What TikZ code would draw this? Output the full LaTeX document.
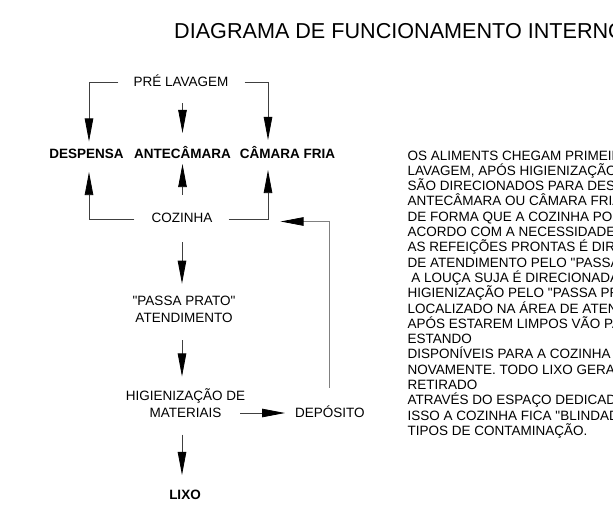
\documentclass[tikz,border=0pt]{standalone}
\usepackage{fontspec}
\setmainfont{Liberation Sans}[Ligatures=TeXOff]
\usetikzlibrary{arrows.meta}
\begin{document}
\begin{tikzpicture}[x=1pt,y=-1pt,
  lbl/.style={inner sep=0pt, font=\fontsize{13.5}{16.7}\selectfont, text height=9.7pt, text depth=0pt},
  blbl/.style={lbl, font=\fontsize{13.5}{16.7}\selectfont\bfseries},
  mlbl/.style={inner sep=0pt, align=center, font=\fontsize{13.5}{16.7}\selectfont},
  txt/.style={inner sep=0pt, anchor=base west, font=\fontsize{13.5}{15.3}\selectfont},
  arr/.style={draw=black!75, line width=0.8pt, -{Triangle[length=23pt,width=8.5pt,color=black]}},
  farr/.style={arr, draw=black!50}]
\useasboundingbox (0,0) rectangle (613,522);
\clip (0,0) rectangle (613,522);
\node[inner sep=0pt, anchor=base west, font=\fontsize{21.6}{24}\selectfont] (title) at (174,38.3) {DIAGRAMA DE FUNCIONAMENTO INTERNO};
% diagram
\node[lbl] (pre) at (181,82) {PRÉ LAVAGEM};
\node[blbl] (desp) at (86.5,154) {DESPENSA};
\node[blbl] (ante) at (182.5,154) {ANTECÂMARA};
\node[blbl] (cam) at (287.5,154) {CÂMARA FRIA};
\node[lbl] (coz) at (182,218) {COZINHA};
\node[mlbl] (passa) at (184,309) {"PASSA PRATO"\\ATENDIMENTO};
\node[mlbl] (hig) at (185.5,403) {HIGIENIZAÇÃO DE\\MATERIAIS};
\node[lbl, anchor=west] (dep) at (295,413) {DEPÓSITO};
\node[blbl] (lixo) at (185,495) {LIXO};
% connectors
\draw[arr] ([xshift=-15pt]pre.west) -| ([xshift=2.5pt,yshift=7.5pt]desp.north);
\draw[arr] ([xshift=16pt]pre.east) -| ([xshift=-19.5pt,yshift=9pt]cam.north);
\draw[arr, shorten <=16pt, shorten >=16pt] (ante.north |- pre.south) -- (ante.north);
\draw[arr] ([xshift=-17pt,yshift=-1pt]coz.west) -| ([xshift=2.5pt,yshift=-13pt]desp.south);
\draw[arr] ([xshift=16pt,yshift=-1pt]coz.east) -| ([xshift=-19.5pt,yshift=-11pt]cam.south);
\draw[arr, shorten <=18pt, shorten >=5pt] (ante.south |- coz.north) -- (ante.south);
\draw[arr, shorten <=19pt, shorten >=12pt] (coz.south) -- (coz.south |- passa.north);
\draw[arr, shorten <=18pt, shorten >=12pt] (passa.south -| coz.south) -- (coz.south |- hig.north);
\draw[arr, shorten <=17pt, shorten >=15pt] (hig.south -| coz.south) -- (coz.south |- lixo.north);
\draw[arr, shorten >=10pt] ([xshift=-5pt]hig.east |- dep.west) -- (dep.west);
\draw[farr] ([xshift=-1pt,yshift=20pt]dep.north) |- ([xshift=68pt,yshift=-3.5pt]coz.east);
% text
\foreach \t [count=\i from 0] in {
  {OS ALIMENTS CHEGAM PRIMEIRO},
  {LAVAGEM, APÓS HIGIENIZAÇÃO},
  {SÃO DIRECIONADOS PARA DESPENSA},
  {ANTECÂMARA OU CÂMARA FRIA},
  {DE FORMA QUE A COZINHA POSSA},
  {ACORDO COM A NECESSIDADE},
  {AS REFEIÇÕES PRONTAS É DIRECIONADA},
  {DE ATENDIMENTO PELO "PASSA},
  {\hspace{3.7pt}A LOUÇA SUJA É DIRECIONADA},
  {HIGIENIZAÇÃO PELO "PASSA PRATO"},
  {LOCALIZADO NA ÁREA DE ATENDIMENTO},
  {APÓS ESTAREM LIMPOS VÃO PARA},
  {ESTANDO},
  {DISPONÍVEIS PARA A COZINHA},
  {NOVAMENTE. TODO LIXO GERADO},
  {RETIRADO},
  {ATRAVÉS DO ESPAÇO DEDICADO},
  {ISSO A COZINHA FICA "BLINDADA"},
  {TIPOS DE CONTAMINAÇÃO.}}
  \node[txt] (t\i) at (407.5,160+15.3*\i) {\t};
\end{tikzpicture}
\end{document}
